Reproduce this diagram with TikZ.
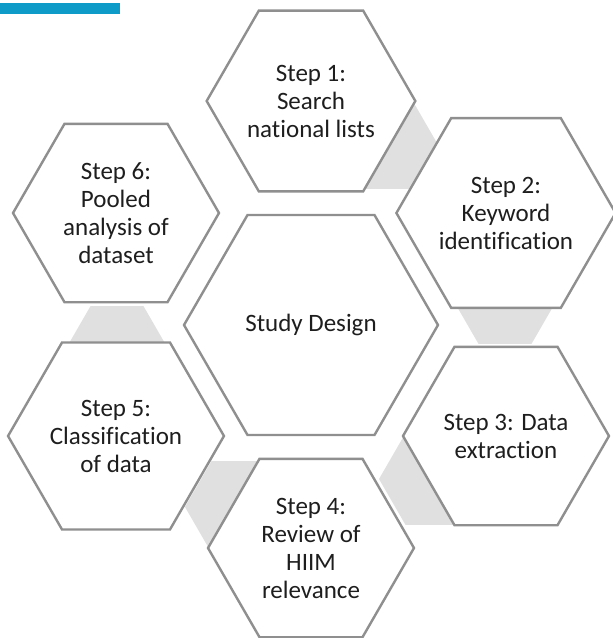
\documentclass[tikz,border=0pt]{standalone}
\usepackage{fontspec}
\setmainfont{Carlito}[Ligatures=NoCommon]
\usetikzlibrary{shapes.geometric}
\definecolor{hexline}{HTML}{8F8F8F}
\definecolor{linkgrey}{HTML}{E0E0E0}
\definecolor{barblue}{HTML}{0F9BC8}
\definecolor{hextext}{HTML}{1E1E1E}

\begin{document}
\begin{tikzpicture}[x=1pt,y=-1pt,
   stepbox/.style={draw=hexline,line width=2.4pt,fill=white,shape=regular polygon,
     regular polygon sides=6,minimum size=206pt,inner sep=0pt,align=center,
     text=hextext,font=\fontsize{25}{28}\selectfont},
   hubbox/.style={stepbox,minimum size=254pt},
   linkbox/.style={fill=linkgrey,shape=regular polygon,regular polygon sides=6,
     minimum size=106pt,inner sep=0pt}]
   \useasboundingbox (0,0) rectangle (613,638);
   \fill[barblue] (0,3) rectangle (120,14);
   % grey links behind the steps
   \path (384,143) node[linkbox] (l12) {};
   \path (505,298) node[linkbox] (l23) {};
   \path (432,479) node[linkbox] (l34) {};
   \path (238,507) node[linkbox] (l45) {};
   \path (117,352) node[linkbox] (l56) {};
   % steps round the hub
   \path (311,101) node[stepbox] (s1) {Step 1:\\Search\\national lists};
   \path (506,213) node[stepbox] (s2) {Step 2:\\Keyword\\identification};
   \path (506,436) node[stepbox] (s3) {Step 3: Data\\extraction};
   \path (311,548) node[stepbox] (s4) {Step 4:\\Review of\\HIIM\\relevance};
   \path (116,436) node[stepbox] (s5) {Step 5:\\Classification\\of data};
   \path (116,213) node[stepbox] (s6) {Step 6:\\Pooled\\analysis of\\dataset};
   \path (311,325) node[hubbox] (hub) {Study Design};
\end{tikzpicture}
\end{document}
